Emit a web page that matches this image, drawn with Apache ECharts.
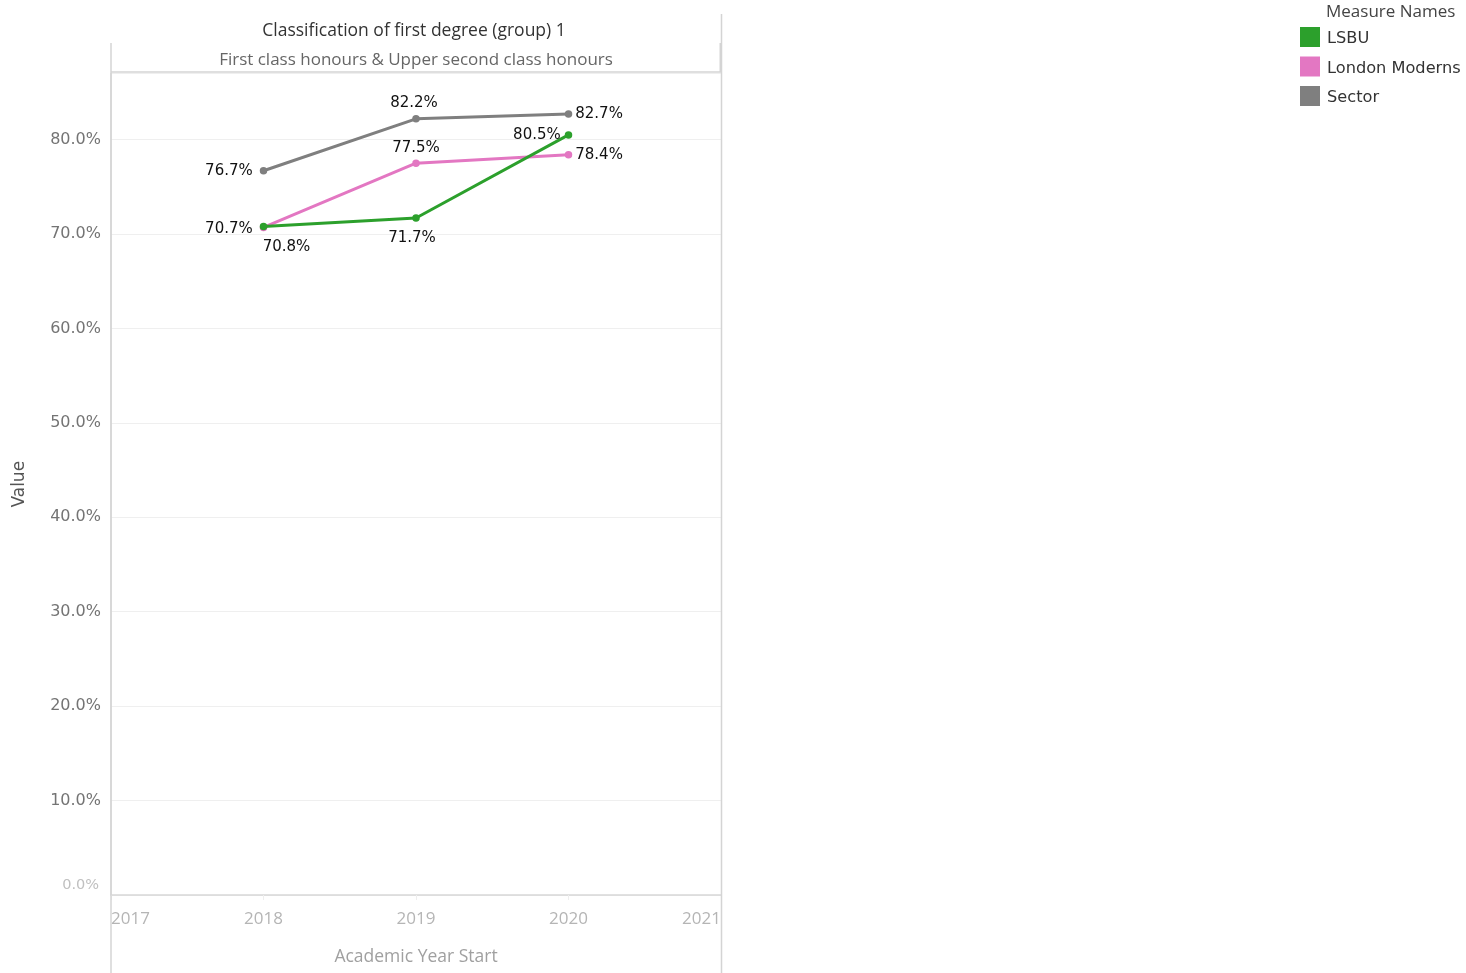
<!DOCTYPE html>
<html>
<head>
<meta charset="utf-8">
<title>Classification of first degree (group) 1</title>
<script src="https://cdn.jsdelivr.net/npm/echarts@6/dist/echarts.min.js"></script>
<style>
  html, body { margin: 0; padding: 0; background: #ffffff; }
  #chart { width: 1466px; height: 973px; }
</style>
</head>
<body>
<div id="chart"></div>
<script>
// Academic year start for each observation
const years = [2018, 2019, 2020];

// Share of first class & upper second class honours (%)
const lsbu = [70.8, 71.7, 80.5];
const londonModerns = [70.7, 77.5, 78.4];
const sector = [76.7, 82.2, 82.7];

const seriesNames = ['LSBU', 'London Moderns', 'Sector'];
const headerTitle = 'Classification of first degree (group) 1';
const headerSubtitle = 'First class honours & Upper second class honours';
const legendTitle = 'Measure Names';
const xAxisTitle = 'Academic Year Start';
const yAxisTitle = 'Value';

// Palette
const colors = { LSBU: '#2ca02c', 'London Moderns': '#e377c2', Sector: '#7f7f7f' };

// Where each point's value label sits around its marker
const labelPlacement = {
  LSBU: [
    { position: 'bottom', distance: 9, offset: [23, 0] },
    { position: 'bottom', distance: 9, offset: [-4, 0] },
    { position: 'left', distance: 3, offset: [-1, 0] }
  ],
  'London Moderns': [
    { position: 'left', distance: 7, offset: [0, 2] },
    { position: 'top', distance: 4, offset: [0, 0] },
    { position: 'right', distance: 3, offset: [0, 0] }
  ],
  Sector: [
    { position: 'left', distance: 7, offset: [0, 0] },
    { position: 'top', distance: 4, offset: [-2, 0] },
    { position: 'right', distance: 3, offset: [0, 0] }
  ]
};

const valueSets = { LSBU: lsbu, 'London Moderns': londonModerns, Sector: sector };

const labelFont = '"DejaVu Sans", Verdana, sans-serif';
const headerFont = '"Open Sans", "Noto Sans", sans-serif';

function buildSeries(name) {
  const values = valueSets[name];
  return {
    name: name,
    type: 'line',
    color: colors[name],
    symbol: 'circle',
    symbolSize: 7.5,
    lineStyle: { width: 3, color: colors[name] },
    itemStyle: { color: colors[name] },
    emphasis: { disabled: true },
    z: name === 'LSBU' ? 4 : (name === 'London Moderns' ? 3 : 2),
    data: years.map((y, i) => ({
      value: [y, values[i]],
      label: {
        show: true,
        position: labelPlacement[name][i].position,
        distance: labelPlacement[name][i].distance,
        offset: labelPlacement[name][i].offset,
        formatter: () => values[i].toFixed(1) + '%',
        color: '#111',
        fontSize: 15,
        fontFamily: labelFont
      }
    }))
  };
}

const chart = echarts.init(document.getElementById('chart'), null, { renderer: 'canvas' });

const paneLeft = 111, paneRight = 721, paneTop = 72;
const frameColor = '#d4d4d4';

const option = {
  backgroundColor: '#ffffff',
  animation: false,
  textStyle: { fontFamily: labelFont },
  title: [
    {
      text: headerTitle,
      left: (paneLeft + paneRight) / 2 - 2,
      textAlign: 'center',
      top: 21,
      padding: 0,
      textStyle: { fontFamily: headerFont, fontSize: 17.5, lineHeight: 20, fontWeight: 'normal', color: '#333' }
    },
    {
      text: headerSubtitle,
      left: (paneLeft + paneRight) / 2,
      textAlign: 'center',
      top: 50,
      padding: 0,
      textStyle: { fontFamily: headerFont, fontSize: 17, lineHeight: 20, fontWeight: 'normal', color: '#666' }
    },
    {
      text: legendTitle,
      left: 1326,
      top: 2,
      padding: 0,
      textStyle: { fontFamily: headerFont, fontSize: 17, lineHeight: 20, fontWeight: 'normal', color: '#444' }
    }
  ],
  legend: {
    data: seriesNames,
    orient: 'vertical',
    left: 1300,
    top: 27,
    padding: 0,
    itemWidth: 20,
    itemHeight: 20,
    itemGap: 9.5,
    icon: 'rect',
    selectedMode: false,
    formatter: name => '{t|' + name + '}',
    textStyle: {
      rich: {
        t: { fontFamily: labelFont, fontSize: 16.2, color: '#333', padding: [4, 0, 0, 2] }
      }
    }
  },
  grid: {
    left: paneLeft,
    right: 1466 - paneRight,
    top: 73.5,
    bottom: 78,
    containLabel: false
  },
  xAxis: {
    type: 'value',
    min: 2017,
    max: 2021,
    interval: 1,
    name: xAxisTitle,
    nameLocation: 'middle',
    nameGap: 53,
    nameTextStyle: { fontFamily: headerFont, fontSize: 17.5, color: '#a0a0a0' },
    axisLine: { show: true, onZero: false, lineStyle: { color: '#d8d8d8', width: 1.5 } },
    axisTick: { show: true, length: 5, lineStyle: { color: '#eeeeee' } },
    axisLabel: {
      formatter: v => String(v),
      margin: 16,
      color: '#b5b5b5',
      fontSize: 17,
      fontFamily: headerFont,
      alignMinLabel: 'left',
      alignMaxLabel: 'right'
    },
    splitLine: { show: false }
  },
  yAxis: {
    type: 'value',
    min: 0,
    max: 87,
    interval: 10,
    name: yAxisTitle,
    nameLocation: 'middle',
    nameGap: 83,
    nameTextStyle: { fontFamily: labelFont, fontSize: 17, color: '#555' },
    axisLine: { show: true, lineStyle: { color: '#d8d8d8', width: 1.5 } },
    axisTick: { show: false },
    axisLabel: {
      showMaxLabel: false,
      margin: 10,
      formatter: v => (v === 0 ? '{z|0.0%}' : v.toFixed(1) + '%'),
      color: '#747474',
      fontSize: 16,
      fontFamily: labelFont,
      rich: {
        z: { fontSize: 14.5, color: '#c0c0c0', fontFamily: labelFont, padding: [0, 2, 20, 0] }
      }
    },
    splitLine: { show: true, lineStyle: { color: '#efefef', width: 1 } }
  },
  graphic: [
    // pane frame: header rule, side rules extending below the axis
    { type: 'line', shape: { x1: paneLeft, y1: 43, x2: paneLeft, y2: 973 }, style: { stroke: frameColor, lineWidth: 1.5 }, z: 10, silent: true },
    { type: 'line', shape: { x1: paneRight + 0.5, y1: 14, x2: paneRight + 0.5, y2: 973 }, style: { stroke: frameColor, lineWidth: 1.5 }, z: 10, silent: true },
    { type: 'line', shape: { x1: paneRight - 0.5, y1: 43, x2: paneRight - 0.5, y2: paneTop }, style: { stroke: frameColor, lineWidth: 2 }, z: 10, silent: true },
    { type: 'line', shape: { x1: paneLeft, y1: paneTop, x2: paneRight, y2: paneTop }, style: { stroke: frameColor, lineWidth: 1.5 }, z: 10, silent: true }
  ],
  series: seriesNames.map(buildSeries)
};

chart.setOption(option);
</script>
</body>
</html>
